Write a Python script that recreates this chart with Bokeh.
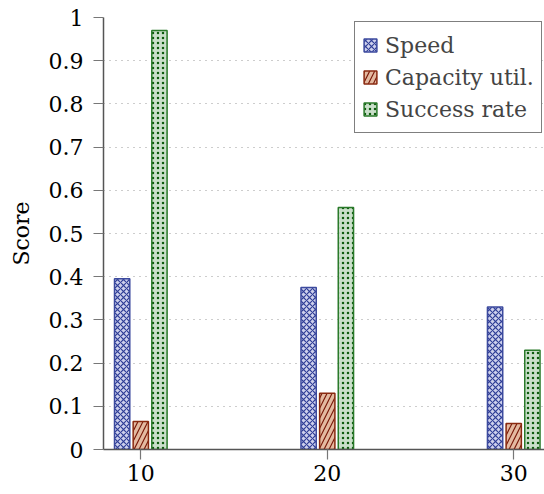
from bokeh.plotting import figure
from bokeh.models import ColumnDataSource, Range1d, FixedTicker
from bokeh.transform import dodge
from bokeh.embed import file_html
from bokeh.resources import INLINE

categories = [10, 20, 30]
speed = [0.395, 0.375, 0.33]
capacity_util = [0.065, 0.13, 0.06]
success_rate = [0.97, 0.56, 0.23]
series_names = ["Speed", "Capacity util.", "Success rate"]
y_ticks = [0, 0.1, 0.2, 0.3, 0.4, 0.5, 0.6, 0.7, 0.8, 0.9, 1]
y_tick_labels = ["0", "0.1", "0.2", "0.3", "0.4", "0.5", "0.6", "0.7", "0.8", "0.9", "1"]

FONT = "DejaVu Serif"
FS = "22px"

source = ColumnDataSource(dict(x=categories, speed=speed, cap=capacity_util, succ=success_rate))

p = figure(width=544, height=494, output_backend="svg", toolbar_location=None,
           x_range=Range1d(8, 31.65), y_range=Range1d(0, 1),
           min_border_left=103, min_border_right=0, min_border_top=17, min_border_bottom=45)
p.outline_line_color = None
p.background_fill_color = "white"

styles = [
    ("speed", -1.0, "#cdd0ec", "#2e3d96", "#3c4a9e", "diagonal_cross", 6, 1.2),
    ("cap", 0.0, "#e3b9a0", "#7a1a0a", "#8a2a10", "right_diagonal_line", 10, 1.2),
    ("succ", 1.0, "#cadfca", "#0d5a0d", "#2a7a2a", "dot", 5, 1.8),
]
for (field, off, fill, hcol, lcol, pat, scale, hw), name in zip(styles, series_names):
    p.vbar(x=dodge("x", off), top=field, width=0.82, bottom=0, source=source,
           fill_color=fill, line_color=lcol, line_width=1.5,
           hatch_pattern=pat, hatch_color=hcol, hatch_scale=scale, hatch_weight=hw,
           legend_label=name)

# axes
for ax in (p.xaxis[0], p.yaxis[0]):
    ax.axis_line_color = "#555555"
    ax.axis_line_width = 1.5
    ax.major_tick_line_color = "#777777"
    ax.major_tick_line_width = 1.2
    ax.major_tick_out = 10
    ax.major_tick_in = 0
    ax.minor_tick_line_color = None
    ax.major_label_text_font = FONT
    ax.major_label_text_font_size = FS
    ax.major_label_text_color = "black"

p.xaxis.ticker = FixedTicker(ticks=categories)
p.xaxis.major_label_standoff = 5
p.yaxis.ticker = FixedTicker(ticks=y_ticks)
p.yaxis.major_label_overrides = {t: l for t, l in zip(y_ticks, y_tick_labels)}
p.yaxis.major_label_standoff = 10
p.yaxis.axis_label = "Score"
p.yaxis.axis_label_text_font = FONT
p.yaxis.axis_label_text_font_size = FS
p.yaxis.axis_label_text_font_style = "normal"
p.yaxis.axis_label_text_color = "black"
p.yaxis.axis_label_standoff = 12

p.xgrid.grid_line_color = None
p.ygrid.grid_line_color = "#9a9a9a"
p.ygrid.grid_line_dash = "1 5"
p.ygrid.grid_line_width = 1.2

lg = p.legend[0]
lg.location = (251, 316)
lg.label_text_font = FONT
lg.label_text_font_size = FS
lg.glyph_width = 16
lg.glyph_height = 16
lg.label_standoff = 7
lg.padding = 7
lg.spacing = 0
lg.label_height = 32
lg.margin = 0
lg.border_line_color = "black"
lg.border_line_width = 1
lg.background_fill_alpha = 1

open("out.html", "w").write(file_html(p, INLINE))
